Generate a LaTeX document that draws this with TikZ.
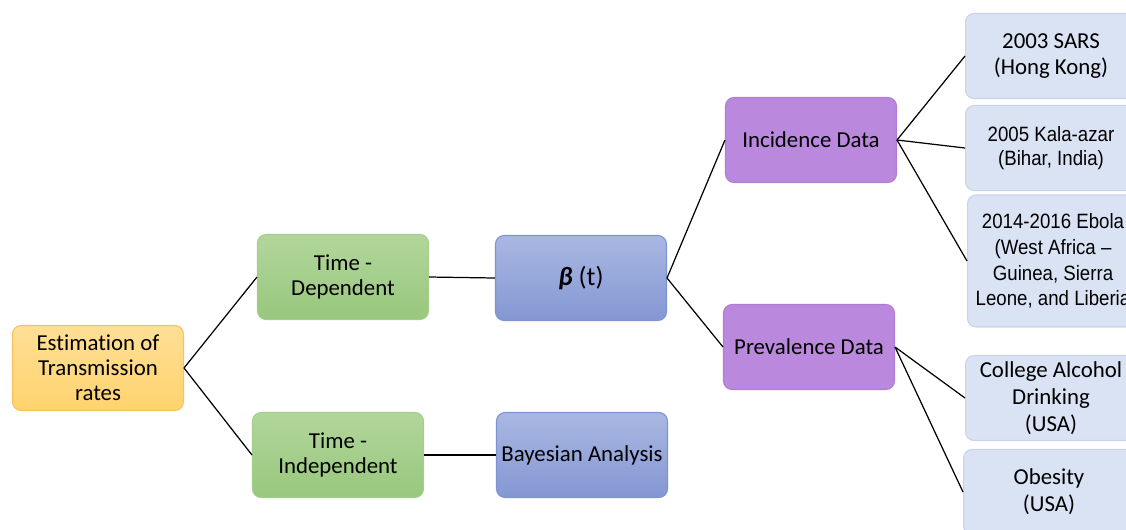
\documentclass[tikz,border=0pt]{standalone}
\usepackage{fontspec}
\setmainfont{Carlito}[Ligatures={TeX,NoCommon}]
\newfontfamily\arialfont{Liberation Sans}[FakeStretch=0.9]
\usetikzlibrary{shadings}
\definecolor{orangeA}{HTML}{FFDF96}
\definecolor{orangeB}{HTML}{FFD36E}
\definecolor{orangeE}{HTML}{F7C35A}
\definecolor{greenA}{HTML}{B2D69B}
\definecolor{greenB}{HTML}{98C77D}
\definecolor{greenE}{HTML}{A3CF8A}
\definecolor{blueA}{HTML}{A9B8E2}
\definecolor{blueB}{HTML}{8497D3}
\definecolor{blueE}{HTML}{7E93CF}
\definecolor{purpA}{HTML}{BA88DD}
\definecolor{purpE}{HTML}{B07CD6}
\definecolor{paleA}{HTML}{DAE3F3}
\definecolor{paleE}{HTML}{C9D4EA}
\tikzset{
  box/.style={rectangle, rounded corners=0.17cm, minimum width=3.42cm, minimum height=1.7cm,
    align=center, font=\fontsize{13}{14.2}\selectfont, inner sep=1pt, line width=0.6pt},
  orangebox/.style={box, draw=orangeE, top color=orangeA, bottom color=orangeB},
  greenbox/.style={box, draw=greenE, top color=greenA, bottom color=greenB},
  bluebox/.style={box, draw=blueE, top color=blueA, bottom color=blueB},
  purpbox/.style={box, draw=purpE, fill=purpA},
  palebox/.style={box, draw=paleE, fill=paleA, font=\fontsize{13}{15.3}\selectfont},
  link/.style={draw=black, line width=0.7pt}
}
\begin{document}
\begin{tikzpicture}[x=0.02cm,y=-0.02cm]
\useasboundingbox (0,0) rectangle (1126,529);
\clip (0,0) rectangle (1126,529);
\node[orangebox] (est) at (98,368) {Estimation of\\Transmission\\rates};
\node[greenbox] (tdep) at (343,277) {Time -\\Dependent};
\node[greenbox] (tind) at (338,455) {Time -\\Independent};
\node[bluebox, font=\fontsize{15}{16}\selectfont] (beta) at (581,278) {{\bfseries\itshape β} (t)};
\node[bluebox] (bayes) at (582,455) {Bayesian Analysis};
\node[purpbox] (inc) at (811,140) {Incidence Data};
\node[purpbox] (prev) at (809,347) {Prevalence Data};
\node[palebox, anchor=west] (sars) at (965,56) {2003 SARS\\(Hong Kong)};
\node[palebox, anchor=west, font=\arialfont\fontsize{11.8}{13.6}\selectfont] (kala) at (965,148) {2005 Kala-azar\\(Bihar, India)};
\node[palebox, anchor=west, minimum height=2.64cm, font=\arialfont\fontsize{11.8}{14.7}\selectfont] (ebola) at (967,261) {2014-2016 Ebola\\(West Africa –\\Guinea, Sierra\\Leone, and Liberia};
\node[palebox, anchor=west] (coll) at (965,398) {College Alcohol\\Drinking\\(USA)};
\node[palebox, anchor=west] (obes) at (963,492) {Obesity\\(USA)};
\draw[link] (est.east) -- (tdep.west);
\draw[link] (est.east) -- (tind.west);
\draw[link] (tdep.east) -- (beta.west);
\draw[link] (tind.east) -- (bayes.west);
\draw[link] (beta.east) -- (inc.west);
\draw[link] (beta.east) -- (prev.west);
\draw[link] (inc.east) -- (sars.west);
\draw[link] (inc.east) -- (kala.west);
\draw[link] (inc.east) -- (ebola.west);
\draw[link] (prev.east) -- (coll.west);
\draw[link] (prev.east) -- (obes.west);
\end{tikzpicture}
\end{document}
